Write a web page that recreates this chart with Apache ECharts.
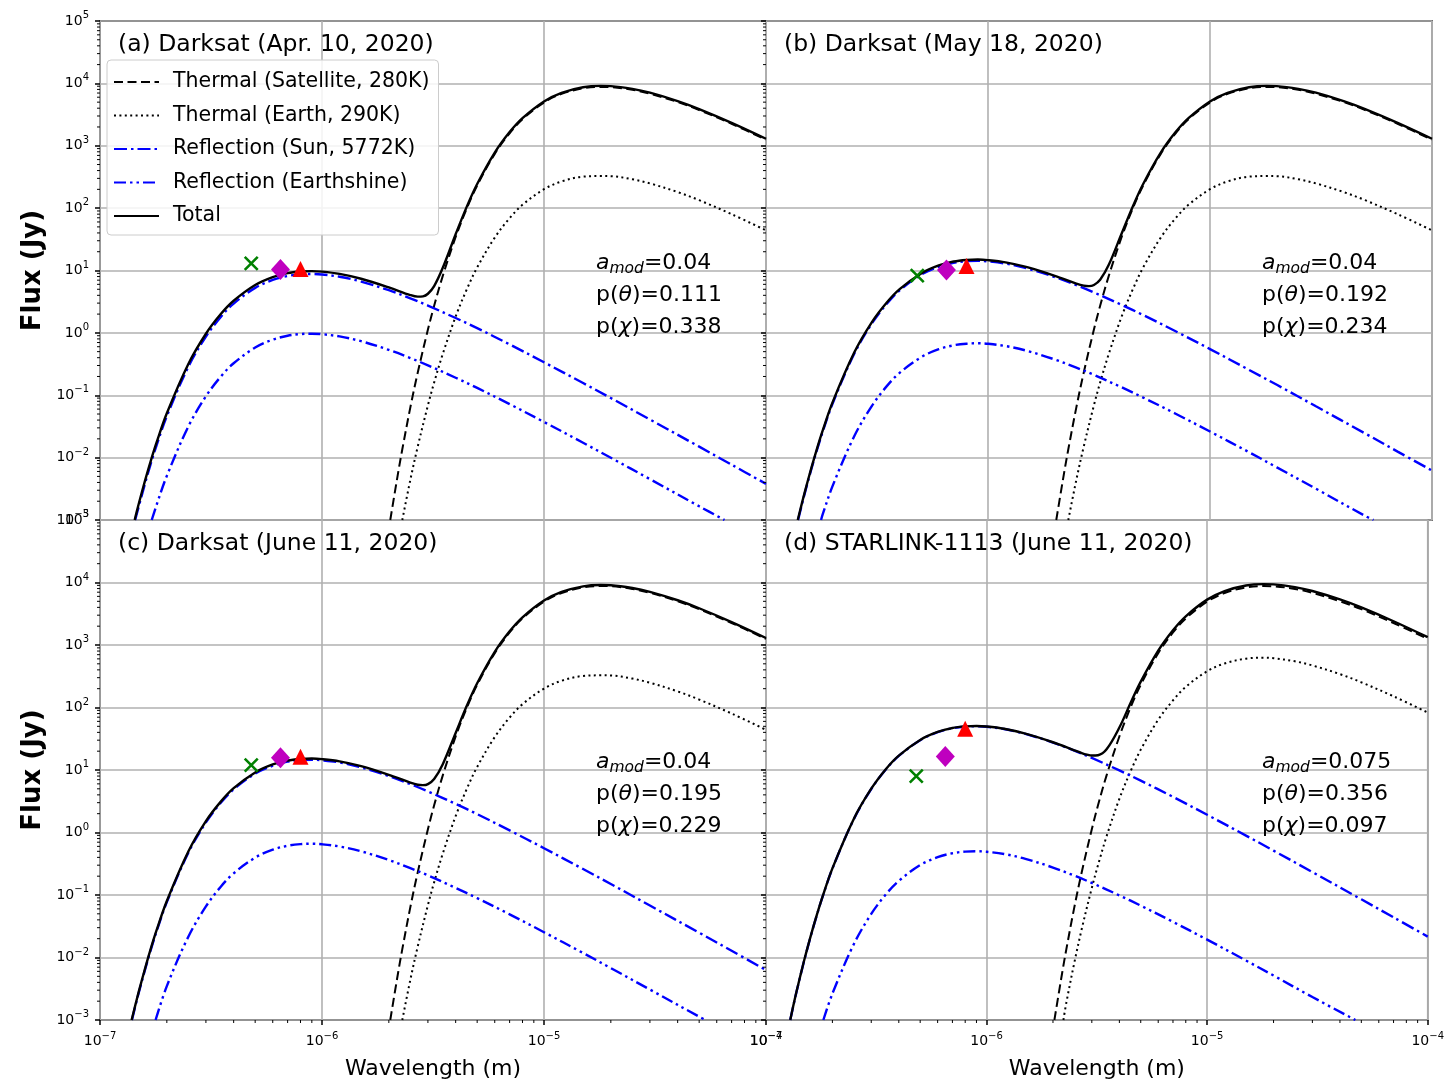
<!DOCTYPE html>
<html>
<head>
<meta charset="utf-8">
<script src="https://cdn.jsdelivr.net/npm/echarts@6/dist/echarts.min.js"></script>
<style>
  html, body { margin: 0; padding: 0; background: #ffffff; }
  #chart { width: 1447px; height: 1084px; }
</style>
</head>
<body>
<div id="chart"></div>
<script>
// ---------------------------------------------------------------------------
// Spectral flux curves: [wavelength (µm), flux (Jy)]
// ---------------------------------------------------------------------------

// Satellite thermal emission (280 K), identical in all four panels
const THERMAL_SAT = [[2.03,0.001],[2.2,0.0056],[2.3,0.0136],[2.5,0.064],[2.7,0.231],[3.0,1.13],[3.2,2.72],[3.5,8.2],[4.0,34.4],[4.5,101],[5.0,231],[6.0,741],[7.0,1585],[8.0,2660],[10,4940],[12,6790],[15,8360],[18,8780],[20,8710],[25,7890],[30,6840],[40,5020],[50,3740],[70,2250],[100,1250]];

// Earth thermal emission (290 K)
const EARTH_THERMAL = [[2.3,0.001],[2.5,0.0044],[2.7,0.0151],[3.0,0.069],[3.2,0.16],[3.5,0.46],[4.0,1.83],[4.5,5.08],[5.0,11.2],[6.0,33.7],[7.0,69],[8.0,113],[10,201],[12,268],[15,320],[18,327],[20,325],[25,290],[30,249],[40,181],[50,134],[70,80],[100,44]];
const EARTH_THERMAL_D = [[2.23,0.001],[2.3,0.0019],[2.5,0.0083],[2.7,0.0285],[3.0,0.13],[3.2,0.30],[3.5,0.87],[4.0,3.46],[4.5,9.6],[5.0,21.2],[6.0,63.7],[7.0,130],[8.0,214],[10,380],[12,507],[15,605],[18,626],[20,614],[25,548],[30,471],[40,342],[50,253],[70,151],[100,83]];

// Reflected sunlight (5772 K)
const SUN_A = [[0.144,0.001],[0.15,0.00172],[0.16,0.004],[0.17,0.0084],[0.18,0.0159],[0.2,0.0463],[0.25,0.286],[0.3,0.873],[0.35,1.8],[0.4,2.95],[0.5,5.27],[0.6,7.06],[0.7,8.17],[0.8,8.67],[0.9,8.79],[1.0,8.63],[1.2,7.94],[1.5,6.65],[2.0,4.83],[2.5,3.58],[3.0,2.74],[4.0,1.73],[5.0,1.19],[7.0,0.653],[10,0.338],[15,0.157],[20,0.0902],[30,0.0409],[50,0.015],[70,0.0077],[100,0.0038]];
const SUN_B = [[0.1395,0.001],[0.145,0.00175],[0.15,0.0028],[0.16,0.0065],[0.17,0.0136],[0.18,0.0259],[0.2,0.0753],[0.25,0.466],[0.3,1.42],[0.35,2.93],[0.4,4.8],[0.5,8.57],[0.6,11.5],[0.7,13.3],[0.8,14.1],[0.9,14.3],[1.0,14.0],[1.2,12.9],[1.5,10.8],[2.0,7.85],[2.5,5.82],[3.0,4.45],[4.0,2.81],[5.0,1.93],[7.0,1.06],[10,0.55],[15,0.255],[20,0.147],[30,0.0665],[50,0.0244],[70,0.0125],[100,0.0062]];
const SUN_C = [[0.1393,0.001],[0.145,0.00179],[0.15,0.00286],[0.16,0.0066],[0.17,0.0139],[0.18,0.0264],[0.2,0.0768],[0.25,0.475],[0.3,1.45],[0.35,2.99],[0.4,4.9],[0.5,8.74],[0.6,11.7],[0.7,13.6],[0.8,14.4],[0.9,14.6],[1.0,14.3],[1.2,13.2],[1.5,11.0],[2.0,8.0],[2.5,5.94],[3.0,4.54],[4.0,2.87],[5.0,1.97],[7.0,1.08],[10,0.561],[15,0.26],[20,0.15],[30,0.0678],[50,0.0249],[70,0.0128],[100,0.0063]];
const SUN_D = [[0.1288,0.001],[0.135,0.00213],[0.14,0.00367],[0.145,0.0061],[0.15,0.0098],[0.16,0.0228],[0.17,0.0475],[0.18,0.0906],[0.2,0.264],[0.25,1.63],[0.3,4.97],[0.35,10.3],[0.4,16.8],[0.5,30.0],[0.6,40.2],[0.7,46.5],[0.8,49.3],[0.9,50.0],[1.0,49.1],[1.2,45.2],[1.5,37.8],[2.0,27.5],[2.5,20.4],[3.0,15.6],[4.0,9.84],[5.0,6.75],[7.0,3.72],[10,1.92],[15,0.893],[20,0.513],[30,0.233],[50,0.0853],[70,0.0439],[100,0.0216]];

// Reflected earthshine
const EARTHSHINE_A = [[0.171,0.001],[0.18,0.00176],[0.2,0.0051],[0.25,0.0316],[0.3,0.0964],[0.35,0.199],[0.4,0.326],[0.5,0.582],[0.6,0.78],[0.7,0.9],[0.8,0.957],[0.9,0.97],[1.0,0.953],[1.2,0.877],[1.5,0.735],[2.0,0.533],[2.5,0.395],[3.0,0.302],[4.0,0.191],[5.0,0.131],[7.0,0.0721],[10,0.0373],[15,0.0173],[20,0.00995],[30,0.00452],[50,0.00166],[65,0.001]];
const EARTHSHINE_B = [[0.177,0.001],[0.18,0.00123],[0.2,0.00359],[0.25,0.0222],[0.3,0.0676],[0.35,0.14],[0.4,0.229],[0.5,0.408],[0.6,0.547],[0.7,0.632],[0.8,0.671],[0.9,0.681],[1.0,0.668],[1.2,0.615],[1.5,0.515],[2.0,0.374],[2.5,0.277],[3.0,0.212],[4.0,0.134],[5.0,0.0918],[7.0,0.0506],[10,0.0262],[15,0.0122],[20,0.00698],[30,0.00317],[50,0.00116],[54.5,0.001]];
const EARTHSHINE_C = [[0.178,0.001],[0.2,0.00348],[0.25,0.0215],[0.3,0.0656],[0.35,0.136],[0.4,0.222],[0.5,0.396],[0.6,0.531],[0.7,0.613],[0.8,0.651],[0.9,0.661],[1.0,0.648],[1.2,0.597],[1.5,0.5],[2.0,0.363],[2.5,0.269],[3.0,0.206],[4.0,0.13],[5.0,0.089],[7.0,0.0491],[10,0.0254],[15,0.0118],[20,0.00677],[30,0.00307],[50,0.00113],[53.5,0.001]];
const EARTHSHINE_D = [[0.182,0.001],[0.2,0.00264],[0.25,0.0163],[0.3,0.0498],[0.35,0.103],[0.4,0.168],[0.5,0.301],[0.6,0.403],[0.7,0.466],[0.8,0.494],[0.9,0.501],[1.0,0.492],[1.2,0.453],[1.5,0.379],[2.0,0.275],[2.5,0.204],[3.0,0.156],[4.0,0.0986],[5.0,0.0676],[7.0,0.0372],[10,0.0193],[15,0.00895],[20,0.00514],[30,0.00233],[47,0.001]];

// Total modelled flux
const TOTAL_A = [[0.1433,0.001],[0.145,0.00119],[0.15,0.00191],[0.16,0.00444],[0.17,0.0093],[0.18,0.0177],[0.2,0.0514],[0.25,0.317],[0.3,0.969],[0.35,2.0],[0.4,3.27],[0.5,5.85],[0.6,7.84],[0.7,9.07],[0.8,9.62],[0.9,9.76],[1.0,9.58],[1.2,8.81],[1.5,7.38],[2.0,5.36],[2.5,4.04],[2.7,3.81],[2.85,3.85],[3.0,4.24],[3.2,5.63],[3.5,11.05],[4.0,38.2],[4.5,107.7],[5.0,243.5],[6.0,775.6],[7.0,1655],[8.0,2774],[10,5141],[12,7058],[15,8680],[18,9110],[20,9035],[25,8180],[30,7089],[40,5201],[50,3874],[70,2330],[100,1294]];
const TOTAL_B = [[0.139,0.001],[0.145,0.00183],[0.15,0.00293],[0.16,0.0068],[0.17,0.01425],[0.18,0.0271],[0.2,0.0789],[0.25,0.488],[0.3,1.49],[0.35,3.07],[0.4,5.03],[0.5,8.98],[0.6,12.05],[0.7,13.93],[0.8,14.77],[0.9,14.98],[1.0,14.67],[1.2,13.51],[1.5,11.31],[2.0,8.22],[2.5,6.17],[2.7,5.71],[2.85,5.61],[3.0,5.86],[3.2,7.10],[3.5,12.33],[4.0,39.2],[4.5,108.5],[5.0,244.2],[6.0,776],[7.0,1655],[8.0,2774],[10,5142],[12,7058],[15,8680],[18,9110],[20,9035],[25,8180],[30,7089],[40,5201],[50,3874],[70,2330],[100,1294]];
const TOTAL_C = [[0.1388,0.001],[0.145,0.00186],[0.15,0.00298],[0.16,0.0069],[0.17,0.0145],[0.18,0.0276],[0.2,0.0803],[0.25,0.497],[0.3,1.52],[0.35,3.12],[0.4,5.12],[0.5,9.14],[0.6,12.26],[0.7,14.18],[0.8,15.03],[0.9,15.25],[1.0,14.93],[1.2,13.75],[1.5,11.51],[2.0,8.37],[2.5,6.28],[2.7,5.80],[2.85,5.72],[3.0,5.94],[3.2,7.18],[3.5,12.4],[4.0,39.2],[4.5,108.6],[5.0,244.3],[6.0,776],[7.0,1655],[8.0,2774],[10,5142],[12,7058],[15,8680],[18,9110],[20,9035],[25,8180],[30,7089],[40,5201],[50,3874],[70,2330],[100,1294]];
const TOTAL_D = [[0.1288,0.001],[0.135,0.00215],[0.14,0.00371],[0.145,0.00616],[0.15,0.0099],[0.16,0.023],[0.17,0.048],[0.18,0.0915],[0.2,0.267],[0.25,1.65],[0.3,5.02],[0.35,10.4],[0.4,17.0],[0.5,30.3],[0.6,40.6],[0.7,47.0],[0.8,49.8],[0.9,50.5],[1.0,49.6],[1.2,45.7],[1.5,38.2],[2.0,27.8],[2.5,20.67],[2.7,18.68],[2.85,17.63],[3.0,17.02],[3.2,17.25],[3.5,21.44],[4.0,47.8],[4.5,118.8],[5.0,259],[6.0,810],[7.0,1719],[8.0,2877],[10,5322],[12,7298],[15,8966],[18,9410],[20,9325],[25,8440],[30,7311],[40,5362],[50,3993],[70,2401],[100,1333]];

// Photometric measurements: band wavelengths (µm) and measured fluxes (Jy)
const BAND_WL = [0.48, 0.65, 0.80];          // green ×, magenta ◆, red ▲
const MEAS_A = [13.0, 10.4, 10.6];
const MEAS_B = [8.3, 10.2, 11.8];
const MEAS_C = [12.0, 15.7, 16.3];
const MEAS_D = [8.0, 16.5, 45.6];

// Panel headings and fitted parameters
const TITLES = ['(a) Darksat (Apr. 10, 2020)', '(b) Darksat (May 18, 2020)', '(c) Darksat (June 11, 2020)', '(d) STARLINK-1113 (June 11, 2020)'];
const A_MOD = ['0.04', '0.04', '0.04', '0.075'];
const P_THETA = ['0.111', '0.192', '0.195', '0.356'];
const P_CHI = ['0.338', '0.234', '0.229', '0.097'];

const SERIES_NAMES = ['Thermal (Satellite, 280K)', 'Thermal (Earth, 290K)', 'Reflection (Sun, 5772K)', 'Reflection (Earthshine)', 'Total'];

// ---------------------------------------------------------------------------
const FONT = 'DejaVu Sans';
const GRIDS = [
  { left: 100, top: 21, width: 666, height: 499 },
  { left: 766, top: 21, width: 666, height: 499 },
  { left: 100, top: 520, width: 666, height: 500 },
  { left: 766, top: 520, width: 666, height: 500 }
];
const X_MIN = 1e-7, X_MAX = 1e-4, Y_MIN = 1e-3, Y_MAX = 1e5;

const PANELS = [
  { sun: SUN_A, es: EARTHSHINE_A, earthT: EARTH_THERMAL,   total: TOTAL_A, meas: MEAS_A },
  { sun: SUN_B, es: EARTHSHINE_B, earthT: EARTH_THERMAL,   total: TOTAL_B, meas: MEAS_B },
  { sun: SUN_C, es: EARTHSHINE_C, earthT: EARTH_THERMAL,   total: TOTAL_C, meas: MEAS_C },
  { sun: SUN_D, es: EARTHSHINE_D, earthT: EARTH_THERMAL_D, total: TOTAL_D, meas: MEAS_D }
];

const LINE_STYLES = [
  { color: '#000000', width: 2.0, type: [9, 4.5] },
  { color: '#000000', width: 2.0, type: [2, 3.4] },
  { color: '#0000ff', width: 2.4, type: [13, 4, 2.5, 4] },
  { color: '#0000ff', width: 2.4, type: [12, 4, 2.5, 4, 2.5, 4] },
  { color: '#000000', width: 2.4, type: 'solid' }
];

// power-of-ten tick labels with a superscript exponent
function powerLabel(v) {
  const e = Math.round(Math.log10(v));
  const s = e < 0 ? '\u2212' + (-e) : String(e);
  return '{b|10}{s|' + s + '}';
}
const TICK_RICH = {
  b: { fontSize: 14, fontFamily: FONT, color: '#000', lineHeight: 17 },
  s: { fontSize: 10, fontFamily: FONT, color: '#000', lineHeight: 12, padding: [0, 0, 11, 0] }
};

// log-decade minor tick positions
const X_MINOR = [], Y_MINOR = [];
for (let k = -7; k < -4; k++) for (let m = 2; m < 10; m++) X_MINOR.push(m * Math.pow(10, k));
for (let k = -3; k < 5; k++) for (let m = 2; m < 10; m++) Y_MINOR.push(m * Math.pow(10, k));

const xAxes = [], yAxes = [], series = [], titles = [];

GRIDS.forEach((g, i) => {
  const bottomRow = i >= 2;
  const leftCol = i % 2 === 0;

  xAxes.push({
    gridIndex: i, type: 'log', logBase: 10, min: X_MIN, max: X_MAX, interval: 1,
    axisLine: { show: false },
    axisTick: { show: bottomRow, inside: false, length: 5, lineStyle: { color: '#000', width: 1.5 } },
    axisLabel: { show: bottomRow, interval: 0, margin: 13, formatter: powerLabel, rich: TICK_RICH },
    splitLine: { show: true, lineStyle: { color: '#b0b0b0', width: 1.6 } },
    name: bottomRow ? 'Wavelength (m)' : '',
    nameLocation: 'middle', nameGap: 38,
    nameTextStyle: { fontSize: 22, fontFamily: FONT, color: '#000' }
  });
  yAxes.push({
    gridIndex: i, type: 'log', logBase: 10, min: Y_MIN, max: Y_MAX, interval: 1,
    axisLine: { show: false },
    axisTick: { show: true, inside: false, length: 5, lineStyle: { color: '#000', width: 1.5 } },
    axisLabel: { show: leftCol, interval: 0, margin: 11, formatter: powerLabel, rich: TICK_RICH, showMinLabel: true, showMaxLabel: true },
    splitLine: { show: true, lineStyle: { color: '#b0b0b0', width: 1.6 } },
    name: leftCol ? 'Flux (Jy)' : '',
    nameLocation: 'middle', nameRotate: 90, nameGap: 54,
    nameTextStyle: { fontSize: 26, fontWeight: 'bold', fontFamily: FONT, color: '#000' }
  });

  const p = PANELS[i];
  const curves = [THERMAL_SAT, p.earthT, p.sun, p.es, p.total];
  curves.forEach((pts, c) => {
    series.push({
      type: 'line', name: SERIES_NAMES[c], xAxisIndex: i, yAxisIndex: i,
      data: pts.map(d => [d[0] * 1e-6, d[1]]),
      symbol: 'none', smooth: 0.35, clip: true, silent: true,
      lineStyle: Object.assign({}, LINE_STYLES[c]),
      itemStyle: { color: LINE_STYLES[c].color },
      z: 2
    });
  });

  // measured band fluxes
  series.push({
    type: 'scatter', xAxisIndex: i, yAxisIndex: i, silent: true, z: 4,
    data: [[BAND_WL[0] * 1e-6, p.meas[0]]],
    symbol: 'path://M0,0L10,10M10,0L0,10', symbolSize: 13,
    itemStyle: { color: 'rgba(0,0,0,0)', borderColor: '#008000', borderWidth: 2.6, opacity: 1 }
  });
  series.push({
    type: 'scatter', xAxisIndex: i, yAxisIndex: i, silent: true, z: 4,
    data: [[BAND_WL[1] * 1e-6, p.meas[1]]],
    symbol: 'diamond', symbolSize: [19, 21],
    itemStyle: { color: '#bf00bf', opacity: 1 }
  });
  series.push({
    type: 'scatter', xAxisIndex: i, yAxisIndex: i, silent: true, z: 4,
    data: [[BAND_WL[2] * 1e-6, p.meas[2]]],
    symbol: 'triangle', symbolSize: [16, 16],
    itemStyle: { color: '#ff0000', opacity: 1 }
  });

  // minor ticks on the log axes
  series.push({
    type: 'custom', xAxisIndex: i, yAxisIndex: i, silent: true, clip: false, z: 5,
    data: Y_MINOR.map(v => [X_MIN, v]),
    renderItem: (params, api) => {
      const pt = api.coord([api.value(0), api.value(1)]);
      return { type: 'line', shape: { x1: pt[0] - 3, y1: pt[1], x2: pt[0], y2: pt[1] }, style: { stroke: '#000', lineWidth: 1 } };
    }
  });
  if (bottomRow) {
    series.push({
      type: 'custom', xAxisIndex: i, yAxisIndex: i, silent: true, clip: false, z: 5,
      data: X_MINOR.map(v => [v, Y_MIN]),
      renderItem: (params, api) => {
        const pt = api.coord([api.value(0), api.value(1)]);
        return { type: 'line', shape: { x1: pt[0], y1: pt[1], x2: pt[0], y2: pt[1] + 3 }, style: { stroke: '#000', lineWidth: 1 } };
      }
    });
  }

  // panel heading
  titles.push({
    text: TITLES[i], left: g.left + 18, top: g.top + 10, padding: 0,
    textStyle: { fontSize: 23.5, fontWeight: 'normal', fontFamily: FONT, color: '#000', lineHeight: 28 }
  });
  // fitted parameters
  titles.push({
    text: '{i|a}{sub|mod}{n|=' + A_MOD[i] + '}\n{n|p(}{i|\u03b8}{n|)=' + P_THETA[i] + '}\n{n|p(}{i|\u03c7}{n|)=' + P_CHI[i] + '}',
    left: g.left + 496, top: g.top + 226, padding: 0,
    textStyle: {
      fontSize: 22, fontWeight: 'normal', fontFamily: FONT, color: '#000', lineHeight: 32,
      rich: {
        n: { fontSize: 22, fontWeight: 'normal', fontFamily: FONT, color: '#000', lineHeight: 32 },
        i: { fontSize: 22, fontWeight: 'normal', fontFamily: FONT, fontStyle: 'italic', color: '#000', lineHeight: 32 },
        sub: { fontSize: 15.5, fontWeight: 'normal', fontFamily: FONT, fontStyle: 'italic', color: '#000', lineHeight: 20, padding: [12, 0, 0, 0] }
      }
    }
  });
});

const option = {
  backgroundColor: '#ffffff',
  animation: false,
  grid: GRIDS.map(g => Object.assign({ show: true, borderColor: '#000', borderWidth: 1.5, backgroundColor: 'transparent', containLabel: false }, g)),
  xAxis: xAxes,
  yAxis: yAxes,
  title: titles,
  legend: {
    show: true, orient: 'vertical', left: 107, top: 60,
    data: SERIES_NAMES, selectedMode: false,
    itemWidth: 45, itemHeight: 14, itemGap: 9.5,
    padding: [10, 9, 7, 6],
    itemStyle: { color: 'rgba(0,0,0,0)', borderWidth: 0, opacity: 0 },
    backgroundColor: 'rgba(255,255,255,0.85)', borderColor: '#cccccc', borderWidth: 1, borderRadius: 4,
    textStyle: { fontSize: 20.5, fontFamily: FONT, color: '#000', lineHeight: 24, padding: [0, 0, 0, 9] }
  },
  series: series
};

const chart = echarts.init(document.getElementById('chart'), null, { renderer: 'canvas' });
chart.setOption(option);
</script>
</body>
</html>
